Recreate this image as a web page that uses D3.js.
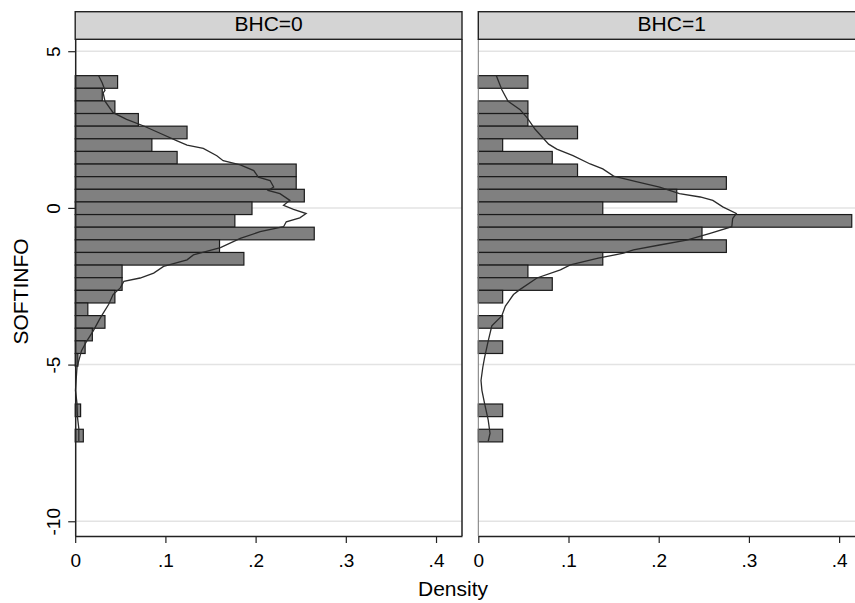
<!DOCTYPE html>
<html>
<head>
<meta charset="utf-8">
<script src="https://cdn.jsdelivr.net/npm/d3@7"></script>
<style>
  body { margin: 0; background: #fff; }
  svg { display: block; font-family: "Liberation Sans", Arial, sans-serif; }
</style>
</head>
<body>
<script>
// histogram bins (SOFTINFO, top edge of first bin and bin height)
var binStart = 4.22
var binWidth = 0.403

var groups = ["BHC=0", "BHC=1"]

// bar densities per bin, from top bin downward
var densityBHC0 = [0.047, 0.030, 0.044, 0.070, 0.124, 0.085, 0.113, 0.245, 0.245, 0.254,
  0.196, 0.177, 0.265, 0.160, 0.187, 0.052, 0.052, 0.044, 0.014, 0.033,
  0.019, 0.011, 0.003, 0, 0, 0, 0.006, 0, 0.009]
var densityBHC1 = [0.055, 0, 0.055, 0.055, 0.110, 0.027, 0.082, 0.110, 0.275, 0.220,
  0.138, 0.414, 0.248, 0.275, 0.138, 0.055, 0.082, 0.027, 0, 0.027,
  0, 0.027, 0, 0, 0, 0, 0.027, 0, 0.027]

// kernel density curves: [density, SOFTINFO]
var kdensBHC0 = [[0.026, 4.218], [0.030, 3.987], [0.033, 3.753], [0.031, 3.671], [0.033, 3.405],
  [0.042, 3.038], [0.057, 2.826], [0.076, 2.614], [0.094, 2.383], [0.113, 2.139],
  [0.124, 2.003], [0.142, 1.899], [0.157, 1.665], [0.164, 1.506], [0.183, 1.370],
  [0.198, 1.190], [0.203, 0.981], [0.216, 0.873], [0.220, 0.665], [0.214, 0.557],
  [0.227, 0.453], [0.238, 0.241], [0.231, 0.082], [0.242, -0.044], [0.256, -0.180],
  [0.249, -0.316], [0.234, -0.443], [0.231, -0.601], [0.205, -0.759], [0.183, -0.972],
  [0.161, -1.266], [0.131, -1.500], [0.124, -1.658], [0.098, -1.867], [0.087, -2.079],
  [0.072, -2.237], [0.054, -2.342], [0.050, -2.554], [0.042, -2.766], [0.037, -3.082],
  [0.028, -3.503], [0.020, -3.924], [0.013, -4.241], [0.007, -4.557], [0.004, -4.873],
  [0.002, -5.085], [0.001, -5.506], [0.0003, -5.823], [0.002, -6.247], [0.0025, -6.668],
  [0.004, -7.038], [0.004, -7.354], [0.004, -7.44]]
var kdensBHC1 = [[0.020, 4.218], [0.026, 3.775], [0.033, 3.405], [0.046, 3.142], [0.054, 2.880],
  [0.063, 2.509], [0.078, 2.035], [0.087, 1.877], [0.105, 1.665], [0.124, 1.402],
  [0.138, 1.244], [0.150, 1.013], [0.175, 0.842], [0.201, 0.665], [0.223, 0.453],
  [0.246, 0.348], [0.260, 0.241], [0.271, 0.032], [0.286, -0.180], [0.282, -0.339],
  [0.281, -0.601], [0.257, -0.813], [0.231, -1.025], [0.201, -1.184], [0.172, -1.342],
  [0.161, -1.446], [0.133, -1.604], [0.102, -1.816], [0.091, -1.975], [0.065, -2.237],
  [0.046, -2.608], [0.039, -2.766], [0.030, -3.133], [0.026, -3.449], [0.015, -3.766],
  [0.011, -4.241], [0.007, -4.769], [0.005, -5.085], [0.003, -5.506], [0.004, -5.823],
  [0.007, -6.247], [0.011, -6.772], [0.013, -7.196], [0.011, -7.44]]

var yTicks = [5, 0, -5, -10]
var xTicks = [0, 0.1, 0.2, 0.3, 0.4]

var w = 855, h = 603

var svg = d3.select("body").append("svg")
  .attr("width", w)
  .attr("height", h)

// shared y scale
var yScale = d3.scaleLinear()
  .domain([-10.47, 5.38])
  .range([536, 39.3])

var panels = [
  { name: groups[0], x0: 75.2, bars: densityBHC0, kd: kdensBHC0 },
  { name: groups[1], x0: 478.3, bars: densityBHC1, kd: kdensBHC1 }
]
var panelW = 386.8

panels.forEach(function(p, pi) {
  var xScale = d3.scaleLinear()
    .domain([0, 0.4288])
    .range([p.x0, p.x0 + panelW])

  var g = svg.append("g")

  // gridlines
  g.selectAll("line.grid")
    .data(yTicks)
    .enter().append("line")
    .attr("class", "grid")
    .attr("x1", p.x0).attr("x2", p.x0 + panelW)
    .attr("y1", function(d) { return yScale(d) })
    .attr("y2", function(d) { return yScale(d) })
    .attr("stroke", "#e3e3e3")
    .attr("stroke-width", 1.5)

  // bars (keep bin index, skip empty bins)
  var binData = p.bars.map(function(d, i) {
    return { top: binStart - i * binWidth, bottom: binStart - (i + 1) * binWidth, dens: d }
  }).filter(function(b) { return b.dens > 0 })

  g.selectAll("rect.bar")
    .data(binData)
    .enter().append("rect")
    .attr("class", "bar")
    .attr("x", xScale(0))
    .attr("y", function(d) { return yScale(d.top) })
    .attr("width", function(d) { return xScale(d.dens) - xScale(0) })
    .attr("height", function(d) { return yScale(d.bottom) - yScale(d.top) })
    .attr("fill", "#808080")
    .attr("stroke", "#1a1a1a")
    .attr("stroke-width", 1.2)

  // kernel density line
  var line = d3.line()
    .x(function(d) { return xScale(d[0]) })
    .y(function(d) { return yScale(d[1]) })

  g.append("path")
    .datum(p.kd)
    .attr("d", line)
    .attr("fill", "none")
    .attr("stroke", "#2b2b2b")
    .attr("stroke-width", 1.3)

  // x axis
  var xAxis = g.append("g")
    .attr("transform", "translate(0,536)")
    .call(d3.axisBottom(xScale).tickValues(xTicks).tickSize(7).tickSizeOuter(0)
      .tickFormat(function(d) { return d === 0 ? "0" : d3.format(".1f")(d).replace(/^0/, "") }))
  xAxis.select(".domain").attr("stroke", "#222").attr("stroke-width", 1.5)
  xAxis.selectAll(".tick line").attr("stroke", "#222").attr("stroke-width", 1.2)
  xAxis.selectAll("text")
    .attr("font-family", "Liberation Sans, Arial, sans-serif")
    .attr("font-size", 19)
    .attr("fill", "#000")
    .attr("dy", null)
    .attr("y", 31)

  // strip label
  svg.append("rect")
    .attr("x", p.x0).attr("y", 11.7)
    .attr("width", panelW).attr("height", 27.6)
    .attr("fill", "#d4d4d4")
    .attr("stroke", "#222")
    .attr("stroke-width", 1.4)
  svg.append("text")
    .attr("x", p.x0 + panelW / 2)
    .attr("y", 31)
    .attr("text-anchor", "middle")
    .attr("font-size", 21)
    .text(p.name)

  if (pi == 0) {
    // y axis
    var yAxis = g.append("g")
      .attr("transform", "translate(" + p.x0 + ",0)")
      .call(d3.axisLeft(yScale).tickValues(yTicks).tickSize(7).tickSizeOuter(0)
        .tickFormat(function(d) { return String(d) }))
    yAxis.select(".domain").attr("stroke", "#222").attr("stroke-width", 1.5)
    yAxis.selectAll(".tick line").attr("stroke", "#222").attr("stroke-width", 1.2)
    yAxis.selectAll("text")
      .attr("font-family", "Liberation Sans, Arial, sans-serif")
      .attr("font-size", 19)
      .attr("fill", "#000")
      .attr("x", null).attr("dy", null)
      .attr("text-anchor", "middle")
      .attr("transform", "translate(-15,0) rotate(-90)")

    // right frame of the left panel
    g.append("line")
      .attr("x1", p.x0 + panelW).attr("x2", p.x0 + panelW)
      .attr("y1", 39.3).attr("y2", 536)
      .attr("stroke", "#222").attr("stroke-width", 1.5)
  } else {
    g.append("line")
      .attr("x1", p.x0).attr("x2", p.x0)
      .attr("y1", 39.3).attr("y2", 536)
      .attr("stroke", "#777").attr("stroke-width", 1)
  }
})

// axis titles
svg.append("text")
  .attr("x", 453)
  .attr("y", 596)
  .attr("text-anchor", "middle")
  .attr("font-size", 21)
  .text("Density")

svg.append("text")
  .attr("transform", "translate(27.5,291.5) rotate(-90)")
  .attr("text-anchor", "middle")
  .attr("font-size", 21)
  .text("SOFTINFO")
</script>
</body>
</html>
